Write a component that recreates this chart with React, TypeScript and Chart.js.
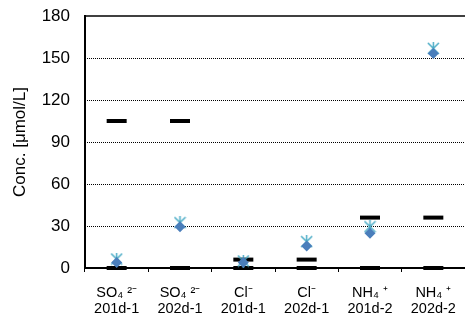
import React, { useEffect, useRef } from "react";
import { Chart, registerables } from "chart.js";

Chart.register(...registerables);

const categories: string[][] = [
  ["SO₄ ²⁻", "201d-1"],
  ["SO₄ ²⁻", "202d-1"],
  ["Cl⁻", "201d-1"],
  ["Cl⁻", "202d-1"],
  ["NH₄ ⁺", "201d-2"],
  ["NH₄ ⁺", "202d-2"],
];
const upperLimit: number[] = [105, 105, 6, 6, 36, 36];
const lowerLimit: number[] = [0, 0, 0, 0, 0, 0];
const diamondSeries: number[] = [4, 29.5, 4, 15.7, 24.8, 153.3];
const asteriskSeries: number[] = [6.4, 32.4, 5, 18.8, 29.5, 156.9];
const yTicks: number[] = [0, 30, 60, 90, 120, 150, 180];

const FONT = "'Liberation Sans', Arial, sans-serif";

function makeAsterisk(): HTMLCanvasElement {
  const c = document.createElement("canvas");
  c.width = 13;
  c.height = 13;
  const g = c.getContext("2d")!;
  g.strokeStyle = "#4BACC6";
  g.lineWidth = 1.5;
  g.beginPath();
  g.moveTo(1, 1);
  g.lineTo(12, 12);
  g.moveTo(12, 1);
  g.lineTo(1, 12);
  g.moveTo(6.5, 0);
  g.lineTo(6.5, 13);
  g.stroke();
  return c;
}

const frame = {
  id: "frame",
  beforeDatasetsDraw(chart: any) {
    const { ctx, chartArea } = chart;
    const y = chart.scales.y;
    ctx.save();
    ctx.strokeStyle = "#000";
    ctx.lineWidth = 1;
    ctx.setLineDash([1, 1]);
    y.ticks.forEach((t: any) => {
      if (t.value === 0 || t.value === 180) return;
      const py = Math.round(y.getPixelForValue(t.value)) + 0.5;
      ctx.beginPath();
      ctx.moveTo(chartArea.left, py);
      ctx.lineTo(chartArea.right, py);
      ctx.stroke();
    });
    ctx.setLineDash([]);
    ctx.lineWidth = 1.5;
    ctx.beginPath();
    ctx.moveTo(chartArea.left, chartArea.top);
    ctx.lineTo(chartArea.right, chartArea.top);
    ctx.stroke();
    ctx.restore();
  },
};

export default function App() {
  const ref = useRef<HTMLCanvasElement>(null);
  useEffect(() => {
    const star = makeAsterisk();
    const chart = new Chart(ref.current!, {
      type: "line",
      data: {
        labels: categories as any,
        datasets: [
          {
            label: "diamond",
            data: diamondSeries,
            showLine: false,
            pointStyle: "rectRot",
            pointRadius: 5.5,
            backgroundColor: "#4A7EBB",
            borderColor: "#4A7EBB",
            borderWidth: 0,
            order: 0,
            clip: false as any,
          },
          {
            label: "asterisk",
            data: asteriskSeries,
            showLine: false,
            pointStyle: star as any,
            pointRadius: 6,
            order: 1,
            clip: false as any,
          },
          {
            label: "upper",
            data: upperLimit,
            showLine: false,
            pointStyle: "line",
            pointRadius: 10,
            pointBorderWidth: 4,
            borderColor: "#000",
            backgroundColor: "#000",
            order: 2,
            clip: false as any,
          },
          {
            label: "lower",
            data: lowerLimit,
            showLine: false,
            pointStyle: "line",
            pointRadius: 10,
            pointBorderWidth: 4,
            borderColor: "#000",
            backgroundColor: "#000",
            order: 2,
            clip: false as any,
          },
        ],
      },
      options: {
        animation: false,
        responsive: true,
        maintainAspectRatio: false,
        layout: { autoPadding: false, padding: { top: 16, left: 0, right: 0, bottom: 0 } },
        plugins: {
          legend: { display: false },
          tooltip: { enabled: false },
        },
        scales: {
          x: {
            type: "category",
            offset: true,
            grid: {
              offset: true,
              drawOnChartArea: false,
              drawTicks: true,
              tickLength: 4,
              color: "#000",
              lineWidth: 1,
            },
            border: { display: true, color: "#000", width: 2 },
            ticks: {
              color: "#000",
              font: { family: FONT, size: 14.5, lineHeight: 1.1 },
              padding: 13,
              maxRotation: 0,
              autoSkip: false,
            },
            afterFit(scale: any) {
              scale.height = 55;
              scale.paddingLeft = 0;
              scale.paddingRight = 0;
            },
          },
          y: {
            min: 0,
            max: 180,
            afterBuildTicks(scale: any) {
              scale.ticks = yTicks.map((v) => ({ value: v }));
            },
            grid: {
              display: false,
              drawTicks: false,
            },
            border: { display: true, color: "#000", width: 2 },
            ticks: {
              color: "#000",
              font: { family: FONT, size: 17 },
              padding: 15,
            },
            title: {
              display: true,
              text: "Conc. [μmol/L]",
              color: "#000",
              font: { family: FONT, size: 17 },
              padding: { top: 10, bottom: 0 },
            },
            afterFit(scale: any) {
              scale.width = 85;
              scale.paddingTop = 0;
              scale.paddingBottom = 0;
            },
          },
        },
      },
      plugins: [frame],
    });
    return () => chart.destroy();
  }, []);
  return (
    <div style={{ position: "fixed", left: 0, top: 0, width: 465, height: 323, background: "#fff" }}>
      <canvas ref={ref} />
    </div>
  );
}
